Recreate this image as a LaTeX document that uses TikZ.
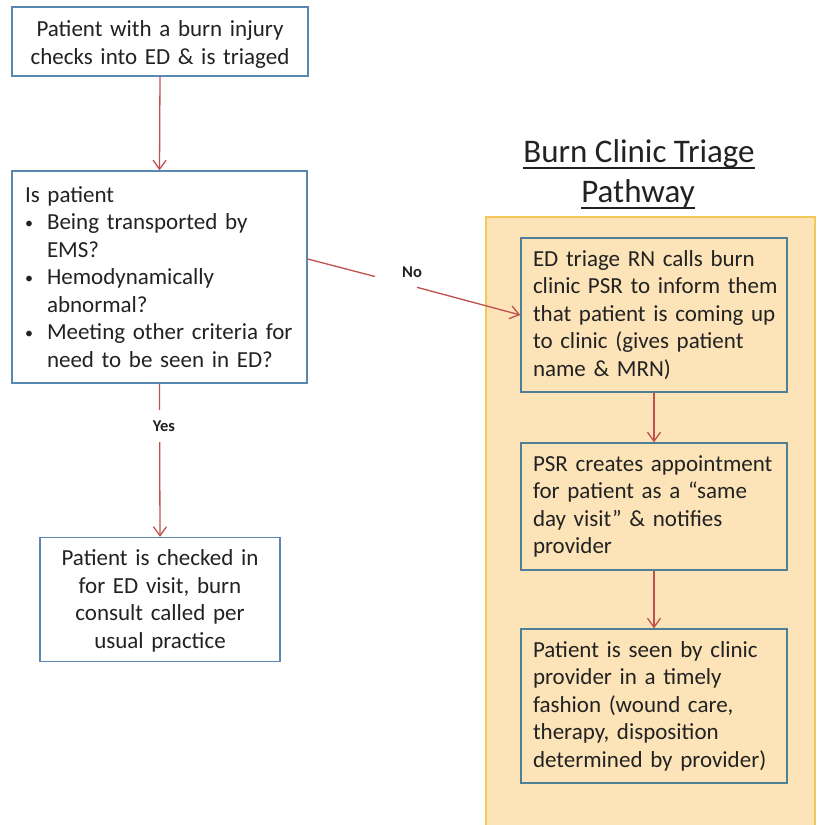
\documentclass[tikz,border=0pt]{standalone}
\usepackage{fontspec}
\setmainfont{Carlito}
\usetikzlibrary{arrows.meta,calc}
\definecolor{arrred}{HTML}{C0504D}
\definecolor{boxblue}{HTML}{5A87AE}
\definecolor{pboxline}{HTML}{4F7F96}
\definecolor{panelfill}{HTML}{FCE4B8}
\definecolor{panelline}{HTML}{F4C75A}
\definecolor{txt}{HTML}{222222}
\newcommand\myul[1]{\setbox0\hbox{#1}\rlap{\rule[-6.75pt]{\wd0}{1.5pt}}\box0}
\newcommand\bul{\makebox[22pt][l]{\raisebox{1.5pt}{\fontsize{16}{16}\selectfont\textbullet}}}
\newcommand\ind{\hspace*{22pt}}
\newcommand\oneline[1]{\mbox{#1}}
\begin{document}
\begin{tikzpicture}[x=1pt,y=-1pt,
  box/.style={draw=boxblue, line width=1.4pt, fill=white, text=txt,
    font=\fontsize{23}{27.5}\selectfont, inner xsep=0pt, inner ysep=0pt},
  pbox/.style={box, draw=pboxline, fill=panelfill, minimum width=266, minimum height=154,
    text width=242, align=left},
  link/.style={draw=arrred, line width=1.3pt},
  arr/.style={link, -{Straight Barb[length=9pt,width=13pt]}},
  lbl/.style={font=\fontsize{16.5}{19}\selectfont\bfseries, text=txt, inner sep=0pt},
  ttl/.style={font=\fontsize{33}{40}\selectfont, text=txt, inner sep=0pt, anchor=base}]
\useasboundingbox (0,0) rectangle (817,825);
\fill[white] (0,0) rectangle (817,825);
% panel
\draw[draw=panelline, fill=panelfill, line width=1.5pt] (486,217) rectangle (815,840);
% title
\node[ttl] (t1) at (639,162) {\myul{Burn Clinic Triage}};
\node[ttl] (t2) at (638,202) {\myul{Pathway}};
% left column
\node[box, minimum width=296, minimum height=69, text width=270, align=center] (b1) at (160,41.5)
  {\rule{0pt}{22pt}\oneline{Patient with a burn injury}\\\oneline{checks into ED \& is triaged}};
\node[box, minimum width=295, minimum height=212, text width=269, align=left] (b2) at (159.5,277)
  {Is patient\\
   \bul\oneline{Being transported by}\\
   \ind EMS?\\
   \bul\oneline{Hemodynamically}\\
   \ind abnormal?\\
   \bul\oneline{Meeting other criteria for}\\
   \ind\oneline{need to be seen in ED?}};
\node[box, minimum width=240, minimum height=124, text width=220, align=center] (b3) at (160,599.5)
  {\rule{0pt}{19pt}\oneline{Patient is checked in}\\\oneline{for ED visit, burn}\\\oneline{consult called per}\\\oneline{usual practice}};
% right column
\node[pbox] (b4) at (654,315)
  {\oneline{ED triage RN calls burn}\\\oneline{clinic PSR to inform them}\\\oneline{that patient is coming up}\\\oneline{to clinic (gives patient}\\\oneline{name \& MRN)}};
\node[pbox, minimum height=127] (b5) at (654,506.5)
  {\oneline{PSR creates appointment}\\\oneline{for patient as a “same}\\\oneline{day visit” \& notifies}\\\oneline{provider}};
\node[pbox] (b6) at (654,706)
  {\oneline{Patient is seen by clinic}\\\oneline{provider in a timely}\\\oneline{fashion (wound care,}\\\oneline{therapy, disposition}\\\oneline{determined by provider)}};
% connectors
\draw[arr] (b1.south) -- (b2.north);
\draw[arr] (b2.south) -- (b3.north);
\node[lbl, fill=white, minimum height=32, minimum width=30] (yes) at (164,426) {Yes};
\coordinate (n1) at (375,276.5);
\coordinate (n2) at (417,287.3);
\draw[link] ($(b2.east)+(0,-18)$) -- (n1);
\draw[arr] (n2) -- (b4.west);
\node[lbl] (no) at (412,272) {No};
\draw[arr] (b4.south) -- (b5.north);
\draw[arr] (b5.south) -- (b6.north);
\end{tikzpicture}
\end{document}
